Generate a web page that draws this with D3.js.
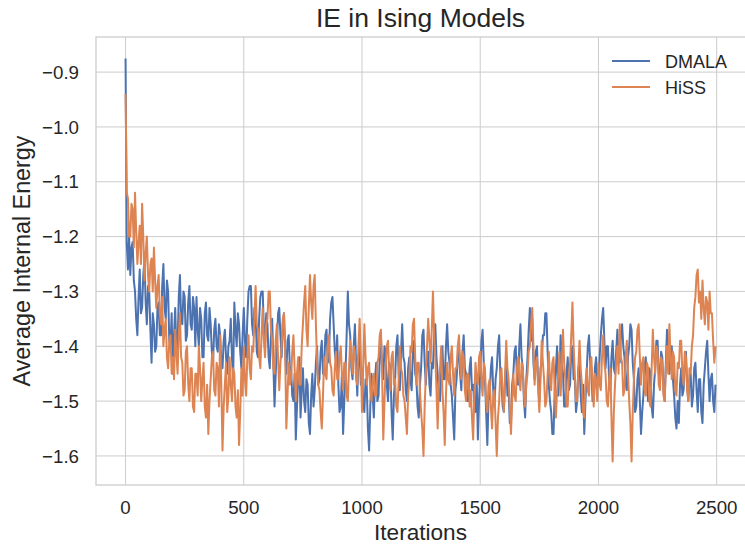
<!DOCTYPE html>
<html>
<head>
<meta charset="utf-8">
<script src="https://cdn.jsdelivr.net/npm/d3@7"></script>
<style>
  body { margin: 0; background: #fff; }
  text { font-family: "Liberation Sans", Arial, sans-serif; fill: #262626; }
</style>
</head>
<body>
<div id="chart"></div>
<script>
var iterations = d3.range(0, 2500, 5);

var dmala = [
  -0.875, -1.21, -1.26, -1.20, -1.27, -1.22, -1.21, -1.28, -1.30, -1.35, -1.38, -1.31, -1.26, -1.34, -1.33, -1.27, -1.24, -1.32, -1.36, -1.29,
  -1.30, -1.37, -1.43, -1.34, -1.36, -1.41, -1.40, -1.33, -1.32, -1.38, -1.38, -1.29, -1.25, -1.33, -1.35, -1.28, -1.30, -1.39, -1.40, -1.34,
  -1.45, -1.38, -1.33, -1.41, -1.40, -1.31, -1.27, -1.35, -1.36, -1.30, -1.31, -1.39, -1.38, -1.32, -1.29, -1.36, -1.37, -1.31, -1.33, -1.40,
  -1.31, -1.37, -1.40, -1.33, -1.35, -1.42, -1.42, -1.34, -1.32, -1.38, -1.39, -1.33, -1.36, -1.41, -1.43, -1.37, -1.35, -1.40, -1.41, -1.36,
  -1.38, -1.43, -1.44, -1.39, -1.37, -1.42, -1.45, -1.40, -1.39, -1.35, -1.42, -1.46, -1.32, -1.37, -1.40, -1.34, -1.36, -1.41, -1.44, -1.38,
  -1.33, -1.39, -1.42, -1.35, -1.30, -1.29, -1.29, -1.36, -1.38, -1.33, -1.34, -1.41, -1.42, -1.35, -1.31, -1.30, -1.30, -1.37, -1.39, -1.34,
  -1.36, -1.42, -1.44, -1.38, -1.35, -1.43, -1.51, -1.45, -1.40, -1.34, -1.33, -1.38, -1.42, -1.36, -1.34, -1.41, -1.45, -1.39, -1.38, -1.44,
  -1.44, -1.49, -1.50, -1.45, -1.57, -1.51, -1.46, -1.42, -1.53, -1.48, -1.44, -1.50, -1.52, -1.46, -1.47, -1.54, -1.56, -1.49, -1.45, -1.51,
  -1.48, -1.43, -1.40, -1.47, -1.46, -1.41, -1.39, -1.45, -1.44, -1.38, -1.37, -1.43, -1.42, -1.35, -1.32, -1.31, -1.36, -1.41, -1.43, -1.38,
  -1.47, -1.52, -1.51, -1.45, -1.56, -1.50, -1.45, -1.38, -1.30, -1.36, -1.38, -1.44, -1.46, -1.40, -1.36, -1.43, -1.49, -1.42, -1.40, -1.47,
  -1.44, -1.50, -1.52, -1.46, -1.47, -1.55, -1.59, -1.51, -1.45, -1.49, -1.53, -1.46, -1.43, -1.50, -1.49, -1.42, -1.38, -1.44, -1.46, -1.40,
  -1.41, -1.47, -1.50, -1.43, -1.44, -1.52, -1.57, -1.49, -1.46, -1.40, -1.38, -1.45, -1.48, -1.41, -1.36, -1.42, -1.43, -1.48, -1.50, -1.44,
  -1.42, -1.46, -1.48, -1.41, -1.39, -1.45, -1.46, -1.51, -1.53, -1.47, -1.44, -1.38, -1.37, -1.43, -1.47, -1.42, -1.41, -1.47, -1.49, -1.43,
  -1.44, -1.38, -1.36, -1.42, -1.45, -1.49, -1.50, -1.44, -1.40, -1.46, -1.46, -1.40, -1.36, -1.41, -1.43, -1.47, -1.49, -1.53, -1.57, -1.48,
  -1.46, -1.42, -1.40, -1.45, -1.48, -1.41, -1.38, -1.44, -1.45, -1.50, -1.50, -1.44, -1.42, -1.48, -1.47, -1.51, -1.52, -1.46, -1.57, -1.50,
  -1.45, -1.39, -1.37, -1.43, -1.46, -1.52, -1.58, -1.50, -1.49, -1.44, -1.42, -1.48, -1.51, -1.46, -1.44, -1.40, -1.38, -1.45, -1.47, -1.51,
  -1.52, -1.46, -1.43, -1.49, -1.48, -1.54, -1.54, -1.47, -1.45, -1.41, -1.40, -1.45, -1.47, -1.40, -1.36, -1.42, -1.44, -1.50, -1.53, -1.46,
  -1.42, -1.37, -1.33, -1.39, -1.35, -1.43, -1.46, -1.41, -1.40, -1.47, -1.50, -1.44, -1.43, -1.38, -1.38, -1.34, -1.34, -1.41, -1.47, -1.50,
  -1.52, -1.56, -1.56, -1.48, -1.44, -1.40, -1.49, -1.45, -1.38, -1.43, -1.45, -1.51, -1.51, -1.45, -1.42, -1.48, -1.47, -1.41, -1.40, -1.46,
  -1.46, -1.52, -1.50, -1.44, -1.43, -1.49, -1.52, -1.47, -1.56, -1.50, -1.45, -1.40, -1.38, -1.43, -1.44, -1.50, -1.49, -1.44, -1.42, -1.47,
  -1.47, -1.42, -1.38, -1.35, -1.33, -1.39, -1.44, -1.40, -1.40, -1.46, -1.48, -1.42, -1.39, -1.44, -1.45, -1.41, -1.37, -1.42, -1.43, -1.38,
  -1.36, -1.40, -1.42, -1.47, -1.48, -1.42, -1.40, -1.36, -1.37, -1.43, -1.46, -1.52, -1.51, -1.46, -1.44, -1.50, -1.56, -1.52, -1.49, -1.44,
  -1.42, -1.47, -1.50, -1.44, -1.45, -1.51, -1.53, -1.47, -1.44, -1.39, -1.39, -1.45, -1.47, -1.41, -1.42, -1.48, -1.50, -1.43, -1.37, -1.42,
  -1.45, -1.41, -1.40, -1.46, -1.49, -1.53, -1.55, -1.50, -1.54, -1.47, -1.44, -1.49, -1.48, -1.43, -1.41, -1.47, -1.50, -1.46, -1.45, -1.51,
  -1.49, -1.44, -1.43, -1.48, -1.52, -1.46, -1.46, -1.52, -1.54, -1.47, -1.44, -1.41, -1.39, -1.45, -1.50, -1.46, -1.45, -1.50, -1.52, -1.47
];

var hiss = [
  -0.94, -1.12, -1.13, -1.20, -1.20, -1.14, -1.15, -1.22, -1.12, -1.19, -1.25, -1.21, -1.18, -1.25, -1.14, -1.20, -1.28, -1.23, -1.20, -1.27,
  -1.30, -1.25, -1.24, -1.30, -1.22, -1.28, -1.33, -1.29, -1.27, -1.34, -1.36, -1.31, -1.40, -1.37, -1.35, -1.42, -1.44, -1.39, -1.38, -1.45,
  -1.42, -1.46, -1.37, -1.41, -1.45, -1.38, -1.34, -1.42, -1.43, -1.49, -1.48, -1.41, -1.40, -1.47, -1.50, -1.44, -1.44, -1.51, -1.52, -1.45,
  -1.45, -1.49, -1.40, -1.44, -1.50, -1.46, -1.43, -1.51, -1.53, -1.47, -1.56, -1.50, -1.46, -1.42, -1.41, -1.48, -1.49, -1.43, -1.44, -1.51,
  -1.38, -1.47, -1.59, -1.51, -1.47, -1.43, -1.52, -1.49, -1.42, -1.47, -1.50, -1.44, -1.45, -1.51, -1.53, -1.48, -1.58, -1.52, -1.44, -1.49,
  -1.40, -1.46, -1.49, -1.42, -1.38, -1.44, -1.46, -1.40, -1.41, -1.35, -1.29, -1.36, -1.37, -1.42, -1.44, -1.38, -1.33, -1.39, -1.42, -1.36,
  -1.35, -1.30, -1.30, -1.37, -1.39, -1.44, -1.45, -1.39, -1.36, -1.42, -1.48, -1.43, -1.40, -1.35, -1.34, -1.41, -1.55, -1.49, -1.43, -1.47,
  -1.46, -1.41, -1.38, -1.44, -1.50, -1.45, -1.42, -1.47, -1.47, -1.40, -1.36, -1.32, -1.29, -1.37, -1.40, -1.33, -1.27, -1.32, -1.35, -1.29,
  -1.27, -1.36, -1.43, -1.47, -1.48, -1.52, -1.55, -1.49, -1.42, -1.45, -1.46, -1.40, -1.38, -1.43, -1.44, -1.48, -1.49, -1.44, -1.41, -1.46,
  -1.46, -1.42, -1.40, -1.45, -1.48, -1.43, -1.43, -1.49, -1.50, -1.44, -1.39, -1.42, -1.45, -1.40, -1.41, -1.46, -1.47, -1.40, -1.35, -1.42,
  -1.52, -1.44, -1.36, -1.42, -1.47, -1.44, -1.43, -1.48, -1.50, -1.46, -1.45, -1.49, -1.49, -1.43, -1.42, -1.38, -1.37, -1.45, -1.57, -1.50,
  -1.44, -1.40, -1.39, -1.45, -1.48, -1.42, -1.41, -1.47, -1.46, -1.51, -1.52, -1.46, -1.40, -1.44, -1.45, -1.49, -1.50, -1.53, -1.56, -1.49,
  -1.46, -1.40, -1.41, -1.36, -1.35, -1.42, -1.47, -1.43, -1.43, -1.48, -1.52, -1.55, -1.60, -1.51, -1.45, -1.40, -1.35, -1.39, -1.43, -1.37,
  -1.30, -1.38, -1.42, -1.48, -1.55, -1.47, -1.44, -1.40, -1.48, -1.52, -1.58, -1.49, -1.43, -1.46, -1.47, -1.42, -1.40, -1.45, -1.49, -1.44,
  -1.44, -1.40, -1.38, -1.43, -1.46, -1.41, -1.42, -1.48, -1.50, -1.45, -1.45, -1.51, -1.48, -1.53, -1.57, -1.49, -1.43, -1.46, -1.47, -1.42,
  -1.41, -1.46, -1.49, -1.43, -1.44, -1.50, -1.52, -1.47, -1.46, -1.51, -1.55, -1.49, -1.48, -1.54, -1.60, -1.53, -1.50, -1.45, -1.44, -1.49,
  -1.52, -1.45, -1.39, -1.44, -1.46, -1.51, -1.56, -1.50, -1.45, -1.49, -1.50, -1.44, -1.42, -1.46, -1.48, -1.43, -1.44, -1.49, -1.51, -1.47,
  -1.45, -1.41, -1.40, -1.36, -1.33, -1.40, -1.47, -1.43, -1.42, -1.48, -1.52, -1.46, -1.39, -1.43, -1.46, -1.51, -1.50, -1.45, -1.41, -1.46,
  -1.48, -1.43, -1.42, -1.48, -1.53, -1.48, -1.45, -1.41, -1.49, -1.44, -1.37, -1.43, -1.46, -1.51, -1.51, -1.45, -1.43, -1.38, -1.32, -1.40,
  -1.45, -1.50, -1.50, -1.44, -1.39, -1.44, -1.47, -1.52, -1.53, -1.47, -1.44, -1.48, -1.49, -1.43, -1.42, -1.47, -1.51, -1.45, -1.46, -1.50,
  -1.43, -1.47, -1.48, -1.42, -1.38, -1.43, -1.45, -1.50, -1.51, -1.46, -1.44, -1.53, -1.61, -1.52, -1.47, -1.43, -1.40, -1.45, -1.36, -1.42,
  -1.43, -1.49, -1.48, -1.42, -1.39, -1.45, -1.50, -1.54, -1.61, -1.52, -1.46, -1.42, -1.41, -1.37, -1.36, -1.42, -1.47, -1.43, -1.42, -1.48,
  -1.49, -1.43, -1.44, -1.50, -1.51, -1.44, -1.37, -1.42, -1.45, -1.40, -1.41, -1.47, -1.48, -1.42, -1.43, -1.49, -1.50, -1.44, -1.40, -1.45,
  -1.36, -1.42, -1.46, -1.41, -1.42, -1.48, -1.49, -1.43, -1.44, -1.39, -1.39, -1.45, -1.47, -1.41, -1.42, -1.48, -1.50, -1.44, -1.45, -1.40,
  -1.38, -1.33, -1.31, -1.27, -1.26, -1.32, -1.30, -1.35, -1.28, -1.33, -1.36, -1.31, -1.32, -1.37, -1.30, -1.34, -1.34, -1.39, -1.43, -1.40
];

var seriesNames = ["DMALA", "HiSS"];
var seriesColors = ["#4c72b0", "#dd8452"];
var xTicks = [0, 500, 1000, 1500, 2000, 2500];
var yTicks = [-0.9, -1.0, -1.1, -1.2, -1.3, -1.4, -1.5, -1.6];

let width = 745, height = 544;
let margin = {left: 96, right: 746, top: 37, bottom: 485};

let svg = d3.select('#chart')
    .append('svg')
    .attr('width', width)
    .attr('height', height);

let x = d3.scaleLinear()
    .domain([-125, 2624])
    .range([margin.left, margin.right]);

let y = d3.scaleLinear()
    .domain([-1.653, -0.836])
    .range([margin.bottom, margin.top]);

// grid
svg.append('g')
    .selectAll('line')
    .data(xTicks)
    .enter().append('line')
        .attr('x1', d => x(d)).attr('x2', d => x(d))
        .attr('y1', margin.top).attr('y2', margin.bottom)
        .attr('stroke', '#cccccc').attr('stroke-width', 1);

svg.append('g')
    .selectAll('line')
    .data(yTicks)
    .enter().append('line')
        .attr('x1', margin.left).attr('x2', margin.right)
        .attr('y1', d => y(d)).attr('y2', d => y(d))
        .attr('stroke', '#cccccc').attr('stroke-width', 1);

// lines
let line = d3.line()
    .x((d, i) => x(iterations[i]))
    .y(d => y(d));

[dmala, hiss].forEach(function (values, k) {
    svg.append('path')
        .datum(values)
        .attr('fill', 'none')
        .attr('stroke', seriesColors[k])
        .attr('stroke-width', 2)
        .attr('stroke-linejoin', 'round')
        .attr('d', line);
});

// frame
svg.append('rect')
    .attr('x', margin.left).attr('y', margin.top)
    .attr('width', margin.right - margin.left).attr('height', margin.bottom - margin.top)
    .attr('fill', 'none')
    .attr('stroke', '#cccccc')
    .attr('stroke-width', 1.3);

// tick labels
let fmt = d3.format('.1f');

svg.append('g')
    .selectAll('text')
    .data(xTicks)
    .enter().append('text')
        .attr('x', d => x(d))
        .attr('y', 514)
        .attr('text-anchor', 'middle')
        .style('font-size', '18.7px')
        .text(d => d);

svg.append('g')
    .selectAll('text')
    .data(yTicks)
    .enter().append('text')
        .attr('x', 79)
        .attr('y', d => y(d) + 6.7)
        .attr('text-anchor', 'end')
        .style('font-size', '18.7px')
        .text(d => fmt(d).replace('-', '\u2212'));

// labels
svg.append('text')
    .attr('x', (margin.left + 745) / 2)
    .attr('y', 27)
    .attr('text-anchor', 'middle')
    .style('font-size', '26.5px')
    .text('IE in Ising Models');

svg.append('text')
    .attr('x', (margin.left + 745) / 2)
    .attr('y', 540)
    .attr('text-anchor', 'middle')
    .style('font-size', '22.6px')
    .text('Iterations');

svg.append('text')
    .attr('transform', 'translate(30,' + ((margin.top + margin.bottom) / 2) + ') rotate(-90)')
    .attr('text-anchor', 'middle')
    .style('font-size', '23.3px')
    .text('Average Internal Energy');

// legend
let legend = svg.append('g');
seriesNames.forEach(function (name, k) {
    let ly = 61 + k * 26;
    legend.append('line')
        .attr('x1', 612).attr('x2', 650)
        .attr('y1', ly).attr('y2', ly)
        .attr('stroke', seriesColors[k])
        .attr('stroke-width', 2);
    legend.append('text')
        .attr('x', 665)
        .attr('y', ly + 6.5)
        .style('font-size', '18px')
        .text(name);
});
</script>
</body>
</html>
